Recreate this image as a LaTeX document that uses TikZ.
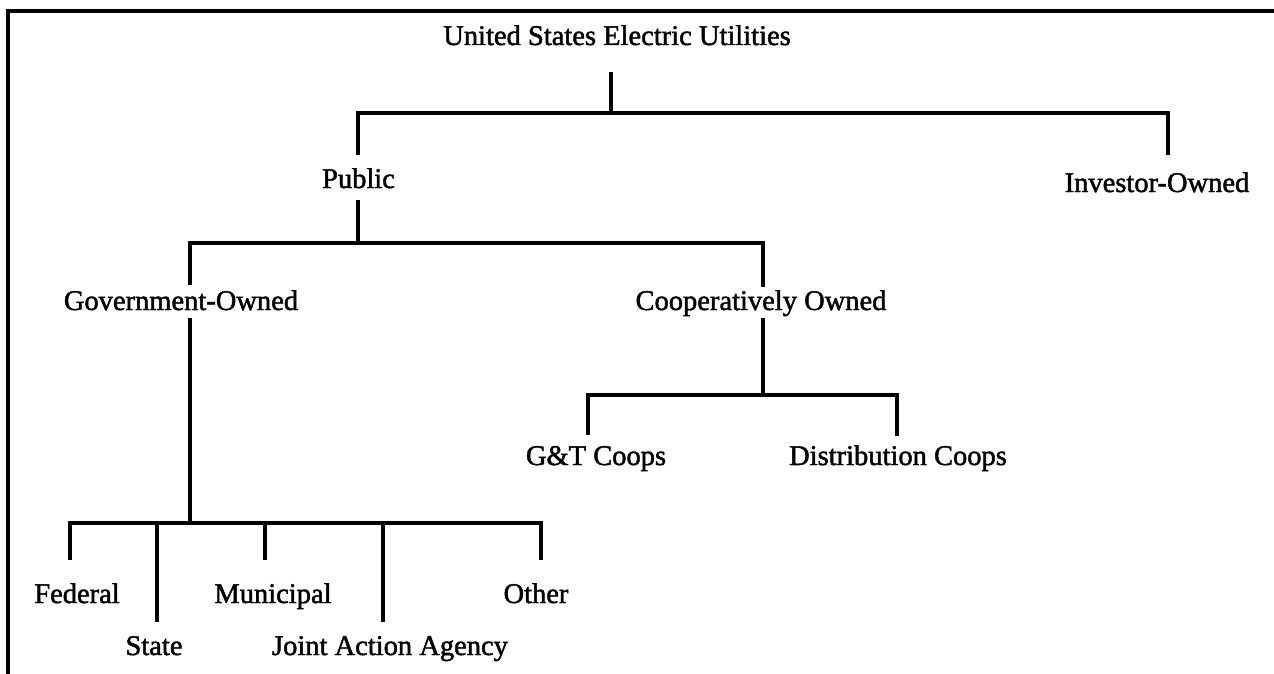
\documentclass[tikz,border=0pt]{standalone}
\usepackage{fontspec}
\setmainfont{Liberation Serif}[FakeBold=1.6]
\begin{document}
\begin{tikzpicture}[x=1pt,y=-1pt,
  lbl/.style={font=\fontsize{28.5}{30}\selectfont, anchor=base, inner sep=0pt},
  tree/.style={line width=3.6pt, line join=miter},
  frame/.style={line width=3.4pt}]
\useasboundingbox (0,0) rectangle (1274,674);
% frame
\coordinate (fbl) at (8,676);
\coordinate (ftl) at (8,11);
\coordinate (ftr) at (1276,11);
\draw[frame] (fbl) -- (ftl) -- (ftr);
% labels
\node[lbl] (usu) at (617,45) {United States Electric Utilities};
\node[lbl] (pub) at (358.5,188) {Public};
\node[lbl] (inv) at (1157,192) {Investor-Owned};
\node[lbl] (gov) at (181,310) {Government-Owned};
\node[lbl] (coop) at (761,310) {Cooperatively Owned};
\node[lbl] (gt) at (596,465) {G\&T Coops};
\node[lbl] (dist) at (898,465) {Distribution Coops};
\node[lbl] (fed) at (77,603) {Federal};
\node[lbl] (mun) at (273,603) {Municipal};
\node[lbl] (oth) at (536,603) {Other};
\node[lbl] (sta) at (154,655) {State};
\node[lbl] (jaa) at (390,655) {Joint Action Agency};
% level 1
\coordinate (u0) at (611,72);
\coordinate (u1) at (611,113);
\coordinate (pubtop) at (358,113);
\coordinate (pubend) at (358,155);
\coordinate (invtop) at (1168,113);
\coordinate (invend) at (1168,155);
\draw[tree] (u0) -- (u1);
\draw[tree] (pubend) -- (pubtop) -- (invtop) -- (invend);
% level 2
\coordinate (p0) at (358,200);
\coordinate (p1) at (358,243);
\coordinate (govtop) at (190,243);
\coordinate (govend) at (190,285);
\coordinate (cooptop) at (763,243);
\coordinate (coopend) at (763,287);
\draw[tree] (p0) -- (p1);
\draw[tree] (govend) -- (govtop) -- (cooptop) -- (coopend);
% coops
\coordinate (c0) at (763,318);
\coordinate (c1) at (763,395);
\coordinate (gttop) at (588,395);
\coordinate (gtend) at (588,435);
\coordinate (disttop) at (897,395);
\coordinate (distend) at (897,436);
\draw[tree] (c0) -- (c1);
\draw[tree] (gtend) -- (gttop) -- (disttop) -- (distend);
% government
\coordinate (g0) at (190,318);
\coordinate (g1) at (190,523);
\coordinate (fedtop) at (70,523);
\coordinate (fedend) at (70,560);
\coordinate (othtop) at (541,523);
\coordinate (othend) at (541,560);
\coordinate (statop) at (157,523);
\coordinate (staend) at (157,622);
\coordinate (muntop) at (265,523);
\coordinate (munend) at (265,560);
\coordinate (jaatop) at (383,523);
\coordinate (jaaend) at (383,622);
\draw[tree] (g0) -- (g1);
\draw[tree] (fedend) -- (fedtop) -- (othtop) -- (othend);
\draw[tree] (statop) -- (staend);
\draw[tree] (muntop) -- (munend);
\draw[tree] (jaatop) -- (jaaend);
\end{tikzpicture}
\end{document}
